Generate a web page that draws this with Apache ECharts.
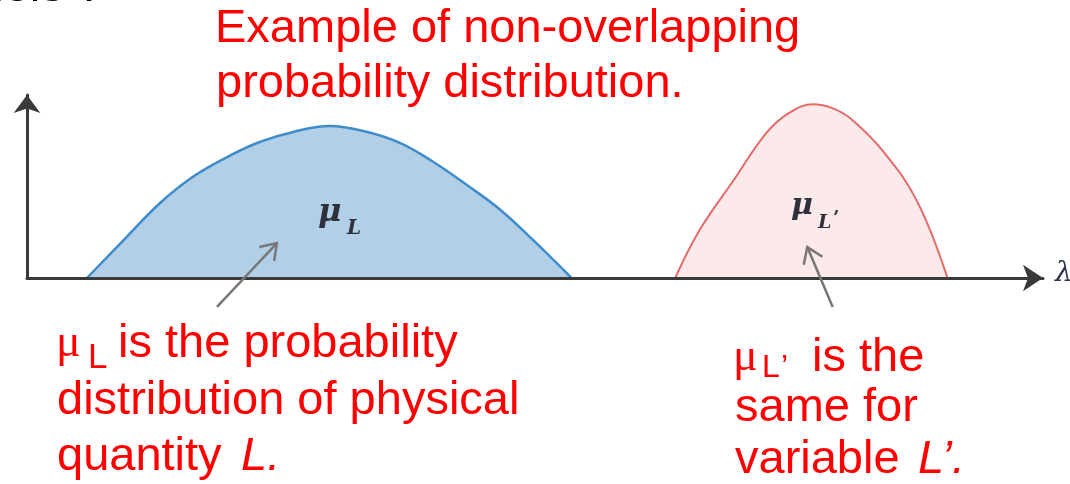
<!DOCTYPE html>
<html>
<head>
<meta charset="utf-8">
<script src="https://cdn.jsdelivr.net/npm/echarts@6/dist/echarts.min.js"></script>
<style>
html,body{margin:0;padding:0;background:#fff}
#main{width:1070px;height:484px}
</style>
</head>
<body>
<div id="main"></div>
<script>
// mu_L (blue) curve
var blueX = [5.9, 9.8, 13.1, 16.3, 19.7, 22.9, 26.2, 29.8, 33.5, 36.7, 40.0, 43.3, 46.6, 49.8, 53.6];
var blueY = [0, 22.4, 41.0, 55.2, 66.1, 74.3, 79.8, 83.1, 79.8, 73.8, 63.4, 50.8, 37.2, 20.8, 0];
// mu_L' (red) curve
var redX = [63.8, 66.2, 69.5, 72.8, 75.1, 77.4, 79.2, 81.0, 84.3, 87.6, 90.6];
var redY = [0, 26.2, 53.0, 79.5, 90.5, 95.0, 93.0, 87.4, 69.0, 42.0, 0];
// gray pointer arrows [tailX, tailY, headX, headY] in axis units
var arrowL = [18.7, -15.8, 24.6, 19.1];
var arrowR = [79.3, -15.8, 76.8, 16.9];

var chart = echarts.init(document.getElementById('main'));

function pairs(xs, ys) {
    var out = [];
    for (var i = 0; i < xs.length; i++) out.push([xs[i], ys[i]]);
    return out;
}

var option = {
    animation: false,
    grid: {left: 27, right: 27, top: 95, bottom: 206, outerBoundsMode: 'none'},
    xAxis: {
        type: 'value', min: 0, max: 100, z: 10,
        axisLine: {show: true, symbol: ['none', 'arrow'], symbolSize: [20, 20],
            lineStyle: {color: '#3a3a3a', width: 3}},
        axisTick: {show: false}, axisLabel: {show: false}, splitLine: {show: false}
    },
    yAxis: {
        type: 'value', min: 0, max: 100, z: 10,
        axisLine: {show: true, symbol: ['none', 'arrow'], symbolSize: [20, 18],
            lineStyle: {color: '#3a3a3a', width: 3}},
        axisTick: {show: false}, axisLabel: {show: false}, splitLine: {show: false}
    },
    series: [
        {
            type: 'line', data: pairs(blueX, blueY), smooth: 0.4, symbol: 'none',
            lineStyle: {color: '#3f8ccb', width: 2.5},
            areaStyle: {color: '#b2cfe8', opacity: 1}
        },
        {
            type: 'line', data: pairs(redX, redY), smooth: 0.4, symbol: 'none',
            lineStyle: {color: '#e46a6a', width: 2},
            areaStyle: {color: '#fce9e9', opacity: 1}
        }
    ]
};
chart.setOption(option);

function px(x, y) {
    return chart.convertToPixel({gridIndex: 0}, [x, y]);
}

function arrow(a4) {
    var a = px(a4[0], a4[1]), b = px(a4[2], a4[3]);
    var ang = Math.atan2(b[1] - a[1], b[0] - a[0]);
    var len = 18, w = 0.6;
    var p1 = [b[0] - len * Math.cos(ang - w), b[1] - len * Math.sin(ang - w)];
    var p2 = [b[0] - len * Math.cos(ang + w), b[1] - len * Math.sin(ang + w)];
    return [
        {type: 'line', z: 20, shape: {x1: a[0], y1: a[1], x2: b[0], y2: b[1]},
            style: {stroke: '#777', lineWidth: 2.5}},
        {type: 'polyline', z: 20, shape: {points: [p1, b, p2]},
            style: {stroke: '#777', lineWidth: 2.5, fill: null}}
    ];
}

// text placed by its baseline
function txt(str, x, base, size, fam, fill, extra) {
    var st = {text: str, x: x, y: base - 0.347 * size, fontSize: size, fontFamily: fam,
        fontStyle: 'normal', fontWeight: 'normal',
        fill: fill, verticalAlign: 'middle', align: 'left'};
    if (extra) for (var k in extra) st[k] = extra[k];
    return {type: 'text', z: 30, style: st};
}

var SANS = '"Liberation Sans", Arial, sans-serif';
var SERIF = '"DejaVu Serif", serif';
var RED = '#ff0000';
var INK = '#30303c';
var BI = {fontStyle: 'italic', fontWeight: 'bold'};

var g = [];
g.push(txt('dels ?', 103, 4, 47, SANS, '#000', {align: 'right'}));
g.push(txt('Example of non-overlapping', 215, 45, 47, SANS, RED));
g.push(txt('probability distribution.', 216, 100, 47, SANS, RED));

// labels inside the humps
g.push(txt('μ', 318, 224, 32, SERIF, INK, BI));
g.push(txt('L', 347, 236, 20, SERIF, INK, BI));
g.push(txt('μ', 791, 217, 30, SERIF, INK, BI));
g.push(txt('L', 818, 230, 19, SERIF, INK, BI));
g.push(txt('\u2019', 833, 226, 18, SERIF, INK, {fontWeight: 'bold'}));
g.push(txt('λ', 1055, 283, 28, SERIF, '#2a3450', {fontStyle: 'italic'}));

// left annotation
g.push(txt('μ', 56, 360, 46, '"Liberation Serif", serif', RED));
g.push(txt('L', 88, 370, 35, SANS, RED));
g.push(txt('is the probability', 118, 360, 47, SANS, RED));
g.push(txt('distribution of physical', 57, 417, 47, SANS, RED));
g.push(txt('quantity', 57, 473, 47, SANS, RED));
g.push(txt('L.', 241, 473, 47, SANS, RED, {fontStyle: 'italic'}));

// right annotation
g.push(txt('μ', 733, 374, 46, '"Liberation Serif", serif', RED));
g.push(txt('L', 762, 379, 32, SANS, RED));
g.push(txt('\u2019', 781, 379, 32, SANS, RED));
g.push(txt('is the', 812, 374, 47, SANS, RED));
g.push(txt('same for', 735, 424, 47, SANS, RED));
g.push(txt('variable', 735, 476, 47, SANS, RED));
g.push(txt('L\u2019.', 918, 476, 47, SANS, RED, {fontStyle: 'italic'}));

g = g.concat(arrow(arrowL), arrow(arrowR));

chart.setOption({graphic: {elements: g}});
</script>
</body>
</html>
